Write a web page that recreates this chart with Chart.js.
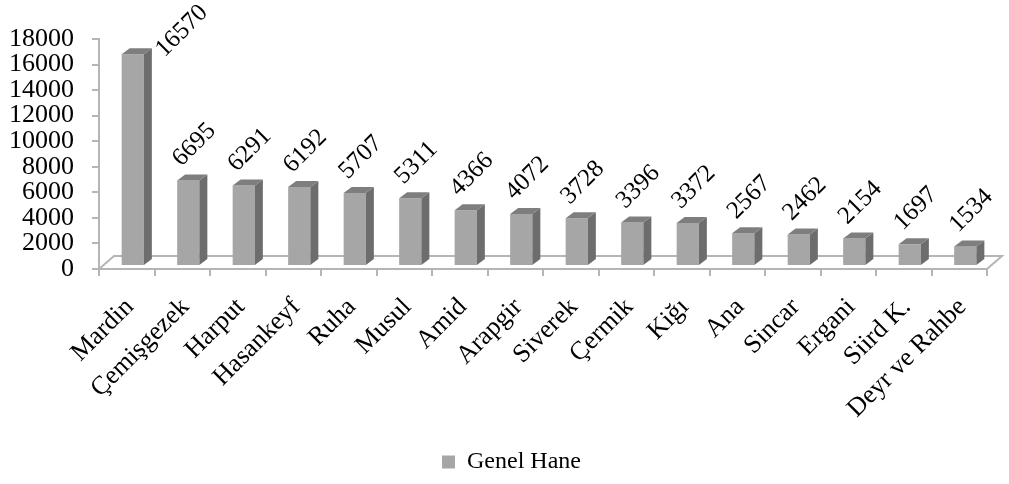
<!DOCTYPE html>
<html><head><meta charset="utf-8">
<script src="https://cdn.jsdelivr.net/npm/chart.js@4/dist/chart.umd.min.js"></script>
<style>html,body{margin:0;padding:0;background:#fff}#wrap{width:1009px;height:484px;position:relative}</style>
</head><body><div id="wrap"><canvas id="c"></canvas></div>
<script>
const categories = ["Mardin","Çemişgezek","Harput","Hasankeyf","Ruha","Musul","Amid","Arapgir","Siverek","Çermik","Kiğı","Ana","Sincar","Ergani","Siird K.","Deyr ve Rahbe"];
const genelHane = [16570,6695,6291,6192,5707,5311,4366,4072,3728,3396,3372,2567,2462,2154,1697,1534];
const seriesName = "Genel Hane";
const yMin = 0, yMax = 18000, yStep = 2000;

const FONT = "'Liberation Serif','Times New Roman',serif";
const FRONT = '#a6a6a6', SIDE = '#6d6d6d', TOP = '#7e7e7e', AXIS = '#b5b5b5';
const DEPTH_X = 8, DEPTH_Y = -6;     // bar 3D depth
const FLOOR_X = 15, FLOOR_Y = -13;   // floor depth
const SHIFT_X = 6, SHIFT_Y = -3;     // bars sit in middle of floor
const LABEL_SIZE = 25;
const LEGEND_SHIFT = 18;

const threeD = {
  id: 'threeD',
  afterLayout(chart) {
    if (chart.legend) { chart.legend.left += LEGEND_SHIFT; chart.legend.right += LEGEND_SHIFT; }
  },
  beforeDatasetsDraw(chart) {
    const {ctx, chartArea: a} = chart;
    ctx.save();
    ctx.strokeStyle = AXIS; ctx.lineWidth = 2;
    ctx.beginPath();
    ctx.moveTo(a.left, a.bottom);
    ctx.lineTo(a.left + FLOOR_X, a.bottom + FLOOR_Y);
    ctx.lineTo(a.right + FLOOR_X, a.bottom + FLOOR_Y);
    ctx.lineTo(a.right, a.bottom);
    ctx.stroke();
    ctx.restore();
    ctx.save();
    ctx.translate(SHIFT_X, SHIFT_Y);
  },
  afterDatasetsDraw(chart) {
    const {ctx} = chart;
    const meta = chart.getDatasetMeta(0);
    meta.data.forEach(bar => {
      const {x, y, base, width} = bar.getProps(['x','y','base','width'], true);
      const l = x - width/2, r = x + width/2;
      ctx.fillStyle = SIDE;
      ctx.beginPath();
      ctx.moveTo(r, y); ctx.lineTo(r + DEPTH_X, y + DEPTH_Y);
      ctx.lineTo(r + DEPTH_X, base + DEPTH_Y); ctx.lineTo(r, base);
      ctx.closePath(); ctx.fill();
      ctx.fillStyle = TOP;
      ctx.beginPath();
      ctx.moveTo(l, y); ctx.lineTo(l + DEPTH_X, y + DEPTH_Y);
      ctx.lineTo(r + DEPTH_X, y + DEPTH_Y); ctx.lineTo(r, y);
      ctx.closePath(); ctx.fill();
    });
    ctx.restore();
    // value labels, rotated -45deg
    ctx.save();
    ctx.font = LABEL_SIZE + "px " + FONT;
    ctx.fillStyle = '#000';
    ctx.textAlign = 'center'; ctx.textBaseline = 'middle';
    const ds = chart.data.datasets[0].data;
    meta.data.forEach((bar, i) => {
      const {x, y, width} = bar.getProps(['x','y','width'], true);
      const txt = String(ds[i]);
      const w = ctx.measureText(txt).width;
      const h = LABEL_SIZE * 0.68;
      const half = (w + h) * Math.SQRT1_2 / 2;
      const bx = x + SHIFT_X, by = y + SHIFT_Y;
      let cx = bx + 6, cy = by - 12 - half;
      if (cy - half < 2) {
        cx = bx + width/2 + DEPTH_X + 2 + half;
        cy = Math.max(by - half, half + 3);
      }
      ctx.save();
      ctx.translate(cx, cy);
      ctx.rotate(-Math.PI/4);
      ctx.fillText(txt, 0, 0);
      ctx.restore();
    });
    ctx.restore();
  }
};

new Chart(document.getElementById('c'), {
  type: 'bar',
  data: {
    labels: categories,
    datasets: [{
      label: seriesName,
      data: genelHane,
      backgroundColor: FRONT,
      borderWidth: 0,
      barPercentage: 0.4,
      categoryPercentage: 1.0
    }]
  },
  options: {
    responsive: true,
    maintainAspectRatio: false,
    animation: false,
    devicePixelRatio: 1,
    layout: { padding: { top: 39, right: 22, bottom: 0, left: 0 } },
    plugins: {
      legend: {
        position: 'bottom',
        labels: {
          font: { family: FONT, size: 24 },
          color: '#000',
          boxWidth: 13, boxHeight: 13,
          padding: 9
        }
      },
      tooltip: { enabled: false }
    },
    scales: {
      x: {
        grid: { display: true, drawOnChartArea: false, drawTicks: true, tickLength: 7, color: AXIS, lineWidth: 2, offset: true },
        border: { display: true, color: AXIS, width: 2 },
        ticks: {
          autoSkip: false, minRotation: 45, maxRotation: 45,
          color: '#000', font: { family: FONT, size: 26 }, padding: 16, labelOffset: 3
        },
        afterFit(scale) { scale.height = 172; }
      },
      y: {
        min: yMin, max: yMax,
        grid: { display: true, drawOnChartArea: false, drawTicks: true, tickLength: 7, color: AXIS, lineWidth: 2 },
        border: { display: true, color: AXIS, width: 2 },
        ticks: {
          stepSize: yStep, autoSkip: false, color: '#000',
          font: { family: FONT, size: 26 }, padding: 18,
          callback: v => String(v)
        },
        afterFit(scale) { scale.width = 99; }
      }
    }
  },
  plugins: [threeD]
});
</script>
</body></html>
